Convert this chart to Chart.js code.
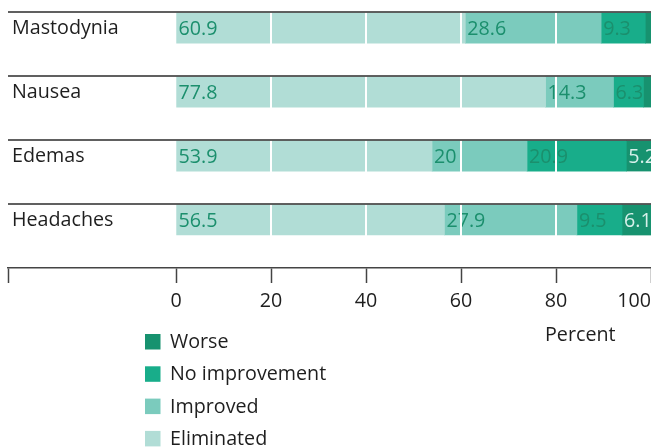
<!DOCTYPE html>
<html>
<head>
<meta charset="utf-8">
<script src="https://cdn.jsdelivr.net/npm/chart.js@4"></script>
<style>
html,body{margin:0;padding:0;background:#fff}
#wrap{width:651px;height:448px}
</style>
</head>
<body>
<div id="wrap"><canvas id="main-chart" width="651" height="448"></canvas></div>
<script>
/* Symptom outcome, stacked horizontal bars */

var symptoms=['Mastodynia','Nausea','Edemas','Headaches'];
var eliminated=[60.9,77.8,53.9,56.5];
var improved=[28.6,14.3,20,27.9];
var noImprovement=[9.3,6.3,20.9,9.5];
var worse=[1.2,1.6,5.2,6.1];
var xTicks=[0,20,40,60,80,100];
var xMin=-35.4;   // axis line runs on under the row labels
var unitLabel='Percent';

var FONT='"Open Sans", sans-serif';
var FSIZE=19.7;
var TEXT='#1e1e1e';
var BAR_H=30;

function pts(arr){return arr.map(function(v,i){return{x:v,y:i}})}

var overlay={
  id:'overlay',
  afterDatasetsDraw:function(chart){
    var ctx=chart.ctx,a=chart.chartArea,xs=chart.scales.x;
    ctx.save();
    ctx.font=FSIZE+'px '+FONT;
    ctx.textAlign='left';
    ctx.textBaseline='middle';
    chart.data.datasets.forEach(function(ds,di){
      chart.getDatasetMeta(di).data.forEach(function(bar,i){
        var v=ds.data[i].x;
        if(v<3)return;
        ctx.fillStyle=ds.labelColor;
        ctx.fillText(String(v),bar.base+2,bar.y+1);
      });
    });
    // white grid lines cut through bars and labels
    ctx.strokeStyle='#fff';
    ctx.lineWidth=2;
    xTicks.forEach(function(t){
      if(t<=0||t>=100)return;
      var px=Math.round(xs.getPixelForValue(t));
      ctx.beginPath();ctx.moveTo(px,a.top);ctx.lineTo(px,a.bottom-1);ctx.stroke();
    });
    ctx.restore();
  },
  afterDraw:function(chart){
    var ctx=chart.ctx,a=chart.chartArea,ys=chart.scales.y,xs=chart.scales.x;
    ctx.save();
    // rule above each row
    ctx.strokeStyle='#2b2b2b';
    ctx.lineWidth=1.5;
    symptoms.forEach(function(s,i){
      var y=Math.round(ys.getPixelForValue(i)-BAR_H/2)-1;
      ctx.beginPath();ctx.moveTo(a.left,y);ctx.lineTo(a.right,y);ctx.stroke();
    });
    ctx.font=FSIZE+'px '+FONT;
    ctx.fillStyle=TEXT;
    ctx.textBaseline='middle';
    ctx.textAlign='left';
    ctx.fillText(unitLabel,xs.getPixelForValue(80)-11,335);
    // legend, top item = last dataset
    chart.data.datasets.slice().reverse().forEach(function(ds,k){
      var top=334+k*32.3;
      ctx.fillStyle=ds.backgroundColor;
      ctx.fillRect(145,top,15.5,15.5);
      ctx.fillStyle=TEXT;
      ctx.fillText(ds.label,170,top+8.5);
    });
    ctx.restore();
  }
};

var ctx=document.getElementById('main-chart').getContext('2d');
var mainChart=new Chart(ctx,{
  type:'bar',
  data:{
    datasets:[
      {label:'Eliminated',data:pts(eliminated),backgroundColor:'#b1ddd6',labelColor:'#1b8f6d'},
      {label:'Improved',data:pts(improved),backgroundColor:'#7bcbbd',labelColor:'#1b8f6d'},
      {label:'No improvement',data:pts(noImprovement),backgroundColor:'#18ad8a',labelColor:'#1b8f6d'},
      {label:'Worse',data:pts(worse),backgroundColor:'#17926f',labelColor:'#d6f0ea'}
    ]
  },
  options:{
    responsive:false,
    animation:false,
    indexAxis:'y',
    layout:{padding:{left:8,right:0,top:0,bottom:0}},
    datasets:{bar:{barThickness:BAR_H,borderWidth:0}},
    plugins:{legend:{display:false},tooltip:{enabled:false}},
    scales:{
      x:{
        type:'linear',stacked:true,min:xMin,max:100,offset:false,
        afterBuildTicks:function(s){s.ticks=[xMin].concat(xTicks).map(function(v){return{value:v}})},
        afterFit:function(s){s.height=180;s.paddingLeft=0;s.paddingRight=0},
        grid:{drawOnChartArea:false,offset:false,tickColor:'#444',tickWidth:1.5,tickLength:15},
        border:{color:'#444',width:1.5},
        ticks:{align:'inner',padding:7,color:TEXT,font:{family:FONT,size:FSIZE},autoSkip:false,
          callback:function(v){return v<0?'':v}}
      },
      y:{
        type:'linear',reverse:true,stacked:true,min:-0.44,max:3.75,offset:false,
        afterBuildTicks:function(s){s.ticks=symptoms.map(function(n,i){return{value:i}})},
        afterFit:function(s){s.width=0;s.paddingTop=0;s.paddingBottom=0},
        grid:{display:false,offset:false},
        border:{display:false},
        ticks:{mirror:true,padding:4,color:TEXT,font:{family:FONT,size:FSIZE},autoSkip:false,
          callback:function(v){return symptoms[v]}}
      }
    }
  },
  plugins:[overlay]
});
</script>
</body>
</html>
